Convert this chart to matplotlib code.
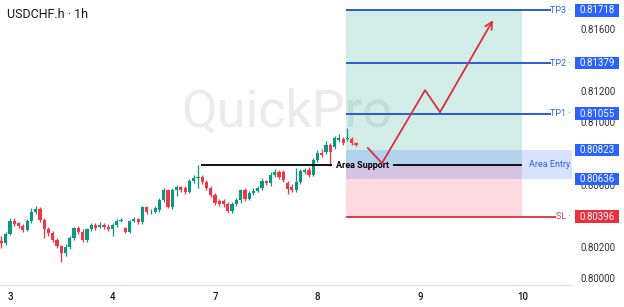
import numpy as np
import matplotlib
matplotlib.use("Agg")
import matplotlib.pyplot as plt
import matplotlib.transforms as mtransforms
from matplotlib.patches import Rectangle

plt.rcParams['font.family'] = ['Roboto', 'DejaVu Sans']

symbol = "USDCHF.h · 1h"
day_labels = ['3', '4', '7', '8', '9', '10']
day_starts = [0, 24, 48, 72, 96, 120]   # hourly bar index where each day starts
first_bar = -2

# hourly candles
opens = [0.80239, 0.80226, 0.80284, 0.80367, 0.80354, 0.80335, 0.80309, 0.80367, 0.80425, 0.80444,
         0.80373, 0.80316, 0.80290, 0.80245, 0.80207, 0.80162, 0.80200, 0.80258, 0.80322, 0.80297,
         0.80245, 0.80316, 0.80341, 0.80329, 0.80341, 0.80329, 0.80316, 0.80341, 0.80367, 0.80322,
         0.80297, 0.80367, 0.80380, 0.80361, 0.80457, 0.80425, 0.80425, 0.80438, 0.80502, 0.80566,
         0.80457, 0.80566, 0.80585, 0.80579, 0.80553, 0.80623, 0.80643, 0.80649, 0.80617, 0.80579,
         0.80534, 0.80495, 0.80495, 0.80476, 0.80431, 0.80476, 0.80502, 0.80566, 0.80508, 0.80547,
         0.80559, 0.80579, 0.80623, 0.80611, 0.80662, 0.80681, 0.80681, 0.80611, 0.80585, 0.80566,
         0.80617, 0.80681, 0.80694, 0.80662, 0.80758, 0.80803, 0.80809, 0.80854, 0.80841, 0.80886,
         0.80893, 0.80893, 0.80893, 0.80867]
highs = [0.80271, 0.80297, 0.80386, 0.80386, 0.80361, 0.80348, 0.80380, 0.80450, 0.80463, 0.80457,
         0.80386, 0.80329, 0.80303, 0.80258, 0.80213, 0.80220, 0.80271, 0.80329, 0.80335, 0.80316,
         0.80322, 0.80354, 0.80354, 0.80361, 0.80354, 0.80348, 0.80354, 0.80380, 0.80386, 0.80329,
         0.80373, 0.80393, 0.80386, 0.80463, 0.80463, 0.80444, 0.80463, 0.80514, 0.80579, 0.80572,
         0.80579, 0.80598, 0.80591, 0.80591, 0.80636, 0.80662, 0.80726, 0.80662, 0.80630, 0.80591,
         0.80547, 0.80508, 0.80508, 0.80489, 0.80489, 0.80514, 0.80572, 0.80579, 0.80559, 0.80579,
         0.80591, 0.80643, 0.80630, 0.80681, 0.80700, 0.80694, 0.80694, 0.80623, 0.80604, 0.80707,
         0.80700, 0.80707, 0.80713, 0.80771, 0.80822, 0.80829, 0.80880, 0.80867, 0.80912, 0.80925,
         0.80905, 0.80963, 0.80905, 0.80873]
lows = [0.80194, 0.80213, 0.80277, 0.80335, 0.80322, 0.80297, 0.80303, 0.80354, 0.80412, 0.80361,
        0.80258, 0.80271, 0.80232, 0.80194, 0.80104, 0.80143, 0.80188, 0.80245, 0.80284, 0.80232,
        0.80232, 0.80303, 0.80309, 0.80322, 0.80316, 0.80303, 0.80271, 0.80329, 0.80361, 0.80290,
        0.80290, 0.80361, 0.80348, 0.80348, 0.80412, 0.80412, 0.80418, 0.80425, 0.80489, 0.80450,
        0.80444, 0.80527, 0.80553, 0.80540, 0.80547, 0.80611, 0.80579, 0.80604, 0.80566, 0.80521,
        0.80470, 0.80463, 0.80457, 0.80418, 0.80418, 0.80463, 0.80482, 0.80495, 0.80502, 0.80534,
        0.80553, 0.80566, 0.80598, 0.80591, 0.80649, 0.80636, 0.80617, 0.80540, 0.80553, 0.80553,
        0.80604, 0.80668, 0.80649, 0.80655, 0.80745, 0.80777, 0.80796, 0.80720, 0.80829, 0.80873,
        0.80854, 0.80880, 0.80854, 0.80848]
closes = [0.80226, 0.80284, 0.80367, 0.80348, 0.80335, 0.80309, 0.80367, 0.80425, 0.80444, 0.80373,
          0.80316, 0.80290, 0.80245, 0.80207, 0.80162, 0.80200, 0.80258, 0.80322, 0.80297, 0.80245,
          0.80316, 0.80341, 0.80322, 0.80341, 0.80329, 0.80316, 0.80341, 0.80367, 0.80373, 0.80297,
          0.80367, 0.80380, 0.80361, 0.80457, 0.80425, 0.80428, 0.80450, 0.80502, 0.80566, 0.80457,
          0.80566, 0.80585, 0.80566, 0.80553, 0.80623, 0.80643, 0.80649, 0.80617, 0.80579, 0.80534,
          0.80482, 0.80476, 0.80476, 0.80431, 0.80476, 0.80502, 0.80566, 0.80508, 0.80547, 0.80559,
          0.80579, 0.80623, 0.80611, 0.80662, 0.80681, 0.80649, 0.80630, 0.80572, 0.80566, 0.80617,
          0.80688, 0.80694, 0.80662, 0.80758, 0.80803, 0.80790, 0.80854, 0.80809, 0.80899, 0.80899,
          0.80867, 0.80899, 0.80867, 0.80854]

tp_names = ['TP3', 'TP2', 'TP1']
tp_prices = [0.81718, 0.81379, 0.81055]
entry_top = 0.80823
entry_bottom = 0.80636
support = 0.80726
sl_price = 0.80396
# scale labels that are not hidden behind the price badges
price_ticks = [0.800, 0.802, 0.806, 0.810, 0.812, 0.816]

# projected move (bar index, price)
path_x = [83.8, 87.1, 97.2, 100.7, 113.1]
path_y = [0.80835, 0.80738, 0.81206, 0.81065, 0.81655]

zone_start, zone_end = 78.7, 120
support_start = 44.7

GREEN = '#089981'
RED = '#f23645'
BLUE = '#2962ff'
LINE_BLUE = '#1c4fd8'
TEXT = '#131722'

fig = plt.figure(figsize=(6.24, 3.07), dpi=100)
ax = fig.add_axes([0, 22 / 307, 572 / 624, 285 / 307])
ax.set_xlim(-2.35, 131.6)
ax.set_ylim(0.79957, 0.81784)

# watermark
ax.text(0.502, 0.605, 'QuickPro', transform=ax.transAxes, ha='center', va='center',
        fontsize=37.5, color='#ebebeb', zorder=0.5)

# candles
x = np.arange(len(closes)) + first_bar
o = np.array(opens)
c = np.array(closes)
up = c >= o
cols = np.where(up, GREEN, RED)
body_bottom = np.minimum(o, c)
body_h = np.maximum(np.abs(c - o), 0.00003)
ax.vlines(x, lows, highs, colors=cols, lw=0.9, zorder=3)
ax.bar(x, body_h, bottom=body_bottom, width=0.75, color=cols, zorder=3, lw=0)

# target / stop zones
ax.add_patch(Rectangle((zone_start, support), zone_end - zone_start, tp_prices[0] - support,
                       color=GREEN, alpha=0.18, lw=0, zorder=1))
ax.add_patch(Rectangle((zone_start, sl_price), zone_end - zone_start, support - sl_price,
                       color=RED, alpha=0.18, lw=0, zorder=1))
ax.add_patch(Rectangle((zone_start, entry_bottom), 131.6 - zone_start, entry_top - entry_bottom,
                       color=BLUE, alpha=0.18, lw=0, zorder=1.2))

# support line with label
ax.hlines(support, support_start, 75.5, color='black', lw=1.3, zorder=4)
ax.hlines(support, 89.6, zone_end, color='black', lw=1.3, zorder=4)
ax.text(76.4, support, 'Area Support', fontsize=6.5, fontweight='bold', color='black',
        va='center', ha='left', zorder=5)

blend = mtransforms.blended_transform_factory(ax.transAxes, ax.transData)

# TP / SL lines
for name, p in zip(tp_names, tp_prices):
    ax.hlines(p, zone_start, 126.6, color=LINE_BLUE, lw=1.3, zorder=4)
    ax.text(0.997, p, name + ' ·', transform=blend, ha='right', va='center',
            fontsize=6.5, color=BLUE, clip_on=False, zorder=5)
ax.hlines(sl_price, zone_start, 127.8, color='#d9323f', lw=1.3, zorder=4)
ax.text(0.997, sl_price, 'SL ·', transform=blend, ha='right', va='center',
        fontsize=6.5, color='#e0404c', clip_on=False, zorder=5)
ax.text(0.997, (entry_top + entry_bottom) / 2, 'Area Entry', transform=blend, ha='right',
        va='center', fontsize=6.5, color=BLUE, zorder=5)

# projected path
ax.plot(path_x[:-1], path_y[:-1], color='#dc2f3d', lw=1.3, zorder=6)
ax.annotate('', xy=(path_x[-1], path_y[-1]), xytext=(path_x[-2], path_y[-2]),
            arrowprops=dict(arrowstyle='->', color='#dc2f3d', lw=1.3,
                            mutation_scale=13, shrinkA=0, shrinkB=0), zorder=6)

# axes styling
for s in ['top', 'left', 'right']:
    ax.spines[s].set_visible(False)
ax.spines['bottom'].set_color('#e0e3eb')
ax.spines['bottom'].set_linewidth(1)
ax.set_xticks(day_starts)
ax.set_xticklabels(day_labels)
ax.tick_params(axis='x', length=0, pad=5, labelsize=7, labelcolor=TEXT)
for lbl in ax.get_xticklabels():
    lbl.set_fontweight('medium')
ax.yaxis.tick_right()
ax.set_yticks(price_ticks)
ax.set_yticklabels([f'{p:.5f}' for p in price_ticks])
ax.tick_params(axis='y', length=0, pad=6, labelsize=7, labelcolor='#333333')

# price scale badges
hh = 0.000405
badges = [(p, BLUE) for p in tp_prices] + [(entry_top, BLUE), (entry_bottom, BLUE), (sl_price, '#e8303f')]
for p, col in badges:
    ax.add_patch(Rectangle((1.0052, p - hh), 0.0769, 2 * hh, transform=blend, color=col,
                           lw=0, clip_on=False, zorder=7))
    ax.text(1.0437, p, f'{p:.5f}', transform=blend, ha='center', va='center',
            fontsize=7, color='white', clip_on=False, zorder=8)

fig.text(7 / 624, 1 - 14 / 307, symbol, fontsize=9, color=TEXT, ha='left', va='center')

fig.savefig('out.png', dpi=100)
